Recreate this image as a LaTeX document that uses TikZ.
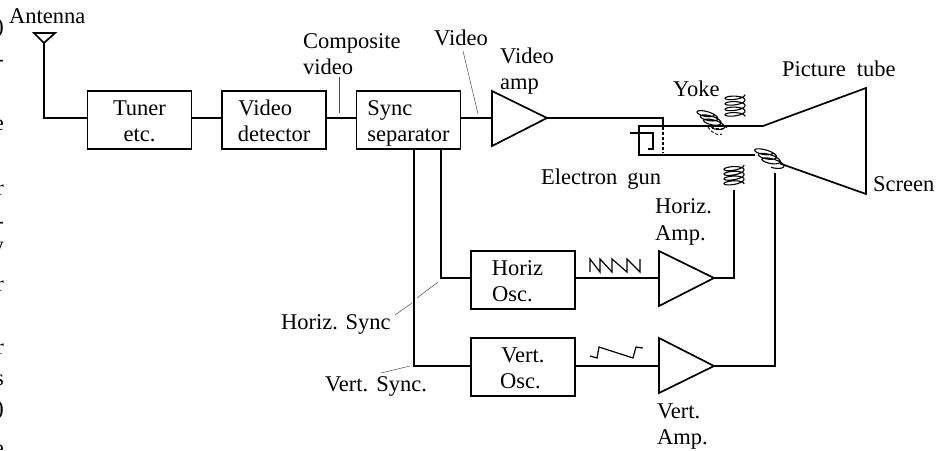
\documentclass[tikz,border=0pt]{standalone}
\usepackage{fontspec}
\setmainfont{Liberation Serif}
\newcommand\tlft{\rule{0pt}{22pt}}
\newcommand\brgt{\rule[-6pt]{0pt}{6pt}}
\newcommand\mycoil[9]{\draw[coilline] plot[smooth,samples=#9*30,domain=0:#9*360,variable=\ang]
  ({#1+#3*(\ang/(#9*360))+#5*cos(\ang)+#7*sin(\ang)},{#2+#4*(\ang/(#9*360))+#6*cos(\ang)+#8*sin(\ang)});}
\tikzset{
  wire/.style={line width=1.7pt,line join=miter,black},
  leader/.style={line width=.5pt,black!70},
  coilline/.style={line width=1.1pt,black},
  blockbox/.style={draw,line width=1.7pt,minimum width=104pt,minimum height=58pt,inner sep=0pt,align=center,font=\fontsize{22.5}{26}\selectfont},
  txt/.style={anchor=base west,inner sep=0pt,font=\fontsize{22.5}{26}\selectfont},
  frag/.style={anchor=base east,inner sep=0pt,font=\fontsize{22.5}{26}\selectfont}
}
\begin{document}
\begin{tikzpicture}[x=1pt,y=-1pt]
\useasboundingbox (0,0) rectangle (937,450);
% cropped letters of the neighbouring column
\begin{scope}
\clip (0,0) rectangle (937,450);
\foreach \n/\c/\yy in {f1/)/33,f2/-/66,f3/e/130,f4/r/195,f5/-/228,f6/y/252,f7/r/291,f8/r/354,f9/s/385,f10/)/415,f11/e/455}
  \node[frag] (\n) at (4,\yy) {\c};
\end{scope}
% blocks
\node[blockbox] (tuner) at (139.5,120) {\tlft Tuner\\etc.\brgt};
\node[blockbox] (det) at (274,120) {\tlft Video\hspace*{17.5pt}\\detector\brgt};
\node[blockbox] (sync) at (408.5,120) {\tlft Sync\hspace*{37.5pt}\\separator\brgt};
\node[blockbox] (hosc) at (523,280) {\tlft Horiz\hspace*{11pt}\\Osc.\hspace*{21pt}\brgt};
\node[blockbox] (vosc) at (523,367) {\tlft Vert.\\Osc.\hspace*{5pt}\brgt};
% amplifiers
\coordinate (vaT) at (492,91); \coordinate (vaB) at (492,146); \coordinate (vaIn) at (492,118); \coordinate (vaTip) at (547,118);
\coordinate (haT) at (659,251); \coordinate (haB) at (659,306); \coordinate (haIn) at (659,278); \coordinate (haTip) at (714,278);
\coordinate (raT) at (659,338); \coordinate (raB) at (659,393); \coordinate (raIn) at (659,366); \coordinate (raTip) at (714,366);
\draw[wire] (vaT) -- (vaTip) -- (vaB) -- cycle;
\draw[wire] (haT) -- (haTip) -- (haB) -- cycle;
\draw[wire] (raT) -- (raTip) -- (raB) -- cycle;
% antenna
\coordinate (antTop) at (44,43); \coordinate (antBend) at (44,118);
\draw[wire] (34,33) -- (55,33) -- (antTop) -- cycle;
\draw[wire] (antTop) -- (antBend) -- ([yshift=2pt]tuner.west);
% signal chain
\draw[wire] ([yshift=2pt]tuner.east) -- ([yshift=2pt]det.west);
\draw[wire] ([yshift=2pt]det.east) -- ([yshift=2pt]sync.west);
\draw[wire] ([yshift=2pt]sync.east) -- (vaIn);
% tube
\coordinate (tl) at (639,126); \coordinate (bl) at (639,155); \coordinate (nt) at (763,126);
\coordinate (st) at (866,88); \coordinate (sb) at (866,194); \coordinate (nb) at (755,155); \coordinate (nb2) at (780,163.5);
\draw[wire] (nb) -- (bl) -- (tl) -- (nt) -- (st) -- (sb) -- (nb2);
% gun
\coordinate (g1) at (630,133); \coordinate (g2) at (653,133); \coordinate (g3) at (653,149); \coordinate (g4) at (648,149);
\draw[wire,line width=1.3pt] (g1) -- (g2) -- (g3) -- (g4);
\coordinate (gridTop) at (663,118); \coordinate (gridMid) at (663,127); \coordinate (gridEnd) at (663,153);
\draw[wire,line width=1.3pt] (vaTip) -- (gridTop) -- (gridMid);
\draw[line width=1.2pt,dash pattern=on 3pt off 2pt] (gridMid) -- (gridEnd);
% sync wires
\coordinate (hsx) at (441,278); \coordinate (vsx) at (414,366);
\draw[wire] (sync.south -| hsx) -- (hsx) -- ([yshift=2pt]hosc.west);
\draw[wire] (sync.south -| vsx) -- (vsx) -- ([yshift=1pt]vosc.west);
\draw[wire] ([yshift=2pt]hosc.east) -- (haIn);
\draw[wire] ([yshift=1pt]vosc.east) -- (raIn);
% amp outputs
\coordinate (hb) at (734,278); \coordinate (ht) at (734,190);
\coordinate (rb) at (775,366); \coordinate (rt) at (775,173);
\draw[wire] (haTip) -- (hb) -- (ht);
\draw[wire] (raTip) -- (rb) -- (rt);
% waveforms
\draw[line width=1.2pt] (590,272) -- (590,259) -- (600,272) -- (600,259) -- (612,272) -- (612,259) -- (627,272) -- (627,259) -- (640,272) -- (640,259);
\draw[line width=1.2pt] (590,356) -- (597,358) -- (599,347) -- (633,358) -- (636,347) -- (643,348);
% yoke coils
\mycoil{735}{95}{0}{22}{10}{-.5}{0}{3}{4}
\mycoil{734}{166}{0}{19}{10}{-1}{0}{3}{4}
\mycoil{705}{112}{11}{14}{9.5}{2.5}{-1}{3.2}{3.3}
\mycoil{763}{150}{12}{15}{10}{2.5}{-1}{3.2}{3.3}
\draw[line width=.9pt,densely dashed] (708,127) .. controls (712,134) and (720,136) .. (722,134);
\draw[line width=.9pt,densely dashed] (711,127) .. controls (716,129) and (724,130) .. (727,127);
% labels
\node[txt] (antL) at (9,23) {Antenna};
\node[txt] (compL) at (303,48) {Composite};
\node[txt] (compL2) at (303,74) {video};
\node[txt] (vidL) at (434,45) {Video};
\node[txt] (ampL) at (500,63) {Video};
\node[txt] (ampL2) at (500,89) {amp};
\node[txt] (yokeL) at (673,96) {Yoke};
\node[txt] (picL) at (782,76) {Picture\hspace{11pt}tube};
\node[txt] (gunL) at (541,184) {Electron\hspace{10pt}gun};
\node[txt] (scrL) at (873,191) {Screen};
\node[txt] (hampL) at (655,213) {Horiz.};
\node[txt] (hampL2) at (655,240) {Amp.};
\node[txt] (vampL) at (657,418) {Vert.};
\node[txt] (vampL2) at (657,444) {Amp.};
\node[txt] (hsL) at (281,329) {Horiz. Sync};
\node[txt] (vsL) at (325,391) {Vert.\hspace{8pt}Sync.};
% leaders
\coordinate (c1) at (339,77); \coordinate (c2) at (339,113);
\draw[leader] (c1) -- (c2);
\coordinate (c3) at (463,51); \coordinate (c4) at (478,114);
\draw[leader] (c3) -- (c4);
\coordinate (c5) at (395,315); \coordinate (c6) at (412,303); \coordinate (c7) at (417,298); \coordinate (c8) at (438,282);
\draw[leader] (c5) -- (c6); \draw[leader] (c7) -- (c8);
\coordinate (c9) at (381,373); \coordinate (c10) at (410,366);
\draw[leader] (c9) -- (c10);
\end{tikzpicture}
\end{document}
